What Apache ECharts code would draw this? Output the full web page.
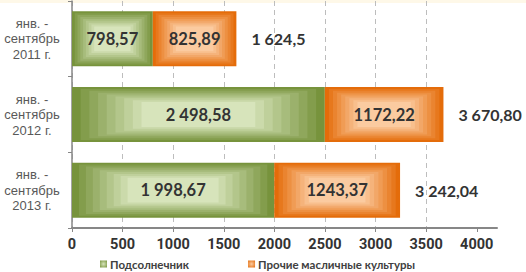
<!DOCTYPE html>
<html>
<head>
<meta charset="utf-8">
<script src="https://cdn.jsdelivr.net/npm/echarts@6/dist/echarts.min.js"></script>
<style>
html,body{margin:0;padding:0;background:#fff;}
#chart{width:526px;height:272px;}
</style>
</head>
<body>
<div id="chart"></div>
<script>
// ---- data ----
const categories = ['янв. -\nсентябрь\n2011 г.', 'янв. -\nсентябрь\n2012 г.', 'янв. -\nсентябрь\n2013 г.'];
const seriesNames = ['Подсолнечник', 'Прочие масличные культуры'];
const sunflower = [798.57, 2498.58, 1998.67];
const otherOilseeds = [825.89, 1172.22, 1243.37];
const sunflowerLabels = ['798,57', '2 498,58', '1 998,67'];
const otherLabels = ['825,89', '1172,22', '1243,37'];
const totals = [1624.46, 3670.80, 3242.04];
const totalLabels = ['1 624,5', '3 670,80', '3 242,04'];
const xTicks = [0, 500, 1000, 1500, 2000, 2500, 3000, 3500, 4000];

// ---- styles ----
const GREEN = {edge: [119, 147, 60], center: [215, 228, 187]};
const ORANGE = {edge: [228, 108, 10], center: [251, 203, 160]};
const numFont = 'Lato, "Noto Sans", sans-serif';

function mix(a, b, t) {
  return 'rgb(' + a.map((v, i) => Math.round(v + (b[i] - v) * t)).join(',') + ')';
}

function bandRenderer(pal) {
  return function (params, api) {
    const cat = api.value(0), s = api.value(1), e = api.value(2);
    const p0 = api.coord([s, cat]);
    const p1 = api.coord([e, cat]);
    const h = api.size([0, 1])[1] * 0.727;
    const w = p1[0] - p0[0];
    const cx = p0[0] + w / 2, cy = p0[1];
    const children = [];
    const N = 9, inner = 0.45;
    for (let i = 0; i < N; i++) {
      const sc = 1 - i * (1 - inner) / (N - 1);
      const t = i / (N - 1);
      children.push({
        type: 'rect',
        shape: {x: cx - w * sc / 2, y: cy - h * sc / 2, width: w * sc, height: h * sc},
        style: {fill: mix(pal.edge, pal.center, t)}
      });
    }
    children.push({
      type: 'text',
      style: {
        text: api.value(3), x: cx, y: cy, align: 'center', verticalAlign: 'middle',
        fill: '#333333', font: 'bold 16.5px ' + numFont
      }
    });
    return {type: 'group', children: children};
  };
}

const sunData = sunflower.map((v, i) => [i, 0, v, sunflowerLabels[i]]);
const othData = otherOilseeds.map((v, i) => [i, sunflower[i], sunflower[i] + v, otherLabels[i]]);
const totData = totals.map((v, i) => [i, v, totalLabels[i]]);

function legendGrad(pal) {
  return {
    type: 'radial', x: 0.5, y: 0.5, r: 0.7,
    colorStops: [{offset: 0, color: mix(pal.edge, pal.center, 1)}, {offset: 1, color: mix(pal.edge, pal.center, 0)}]
  };
}

const chart = echarts.init(document.getElementById('chart'), null, {renderer: 'svg'});
chart.setOption({
  animation: false,
  backgroundColor: {
    type: 'linear', x: 0, y: 0, x2: 0, y2: 1,
    colorStops: [{offset: 0, color: '#fef8e8'}, {offset: 0.01, color: '#fef8e8'}, {offset: 0.011, color: '#ffffff'}, {offset: 1, color: '#ffffff'}]
  },
  grid: {left: 72, right: 29, top: 1, bottom: 44, containLabel: false},
  legend: {
    left: 100, top: 258, padding: 0, itemWidth: 7, itemHeight: 7, itemGap: 59,
    textStyle: {color: '#404040', fontWeight: 'bold', fontSize: 11.5, fontFamily: numFont, padding: [0, 0, 0, -2]},
    data: [
      {name: seriesNames[0], icon: 'rect', itemStyle: {color: legendGrad(GREEN)}},
      {name: seriesNames[1], icon: 'rect', itemStyle: {color: legendGrad(ORANGE)}}
    ]
  },
  xAxis: {
    type: 'value', min: 0, max: 4200, interval: 500,
    axisLine: {show: true, lineStyle: {color: '#878787', width: 2}},
    axisTick: {show: true, length: 4, customValues: xTicks, lineStyle: {color: '#878787'}},
    axisLabel: {
      customValues: xTicks, margin: 9, color: '#333',
      fontWeight: 'bold', fontSize: 14.5, fontFamily: 'Roboto, sans-serif',
      formatter: function (v) { return String(v); }
    },
    splitLine: {show: true, showMaxLine: false, lineStyle: {color: '#bdbdbd', type: [5, 4], width: 1}}
  },
  yAxis: {
    type: 'category', inverse: true, data: categories,
    axisLine: {show: true, lineStyle: {color: '#878787', width: 1.5}},
    axisTick: {show: true, length: 4, lineStyle: {color: '#878787'}},
    axisLabel: {
      align: 'center', margin: 40, color: '#595959', fontSize: 13, lineHeight: 15.5,
      fontFamily: '"Liberation Sans", Arial, sans-serif'
    }
  },
  series: [
    {
      name: seriesNames[0], type: 'custom', renderItem: bandRenderer(GREEN),
      encode: {x: [1, 2], y: 0}, data: sunData, itemStyle: {color: mix(GREEN.edge, GREEN.center, 0)}
    },
    {
      name: seriesNames[1], type: 'custom', renderItem: bandRenderer(ORANGE),
      encode: {x: [1, 2], y: 0}, data: othData, itemStyle: {color: mix(ORANGE.edge, ORANGE.center, 0)}
    },
    {
      name: 'totals', type: 'custom', encode: {x: 1, y: 0}, data: totData,
      renderItem: function (params, api) {
        const p = api.coord([api.value(1), api.value(0)]);
        return {
          type: 'text',
          style: {
            text: api.value(2), x: p[0] + 15, y: p[1], align: 'left', verticalAlign: 'middle',
            fill: '#333333', font: 'bold 16px ' + numFont
          }
        };
      }
    }
  ]
});
</script>
</body>
</html>
